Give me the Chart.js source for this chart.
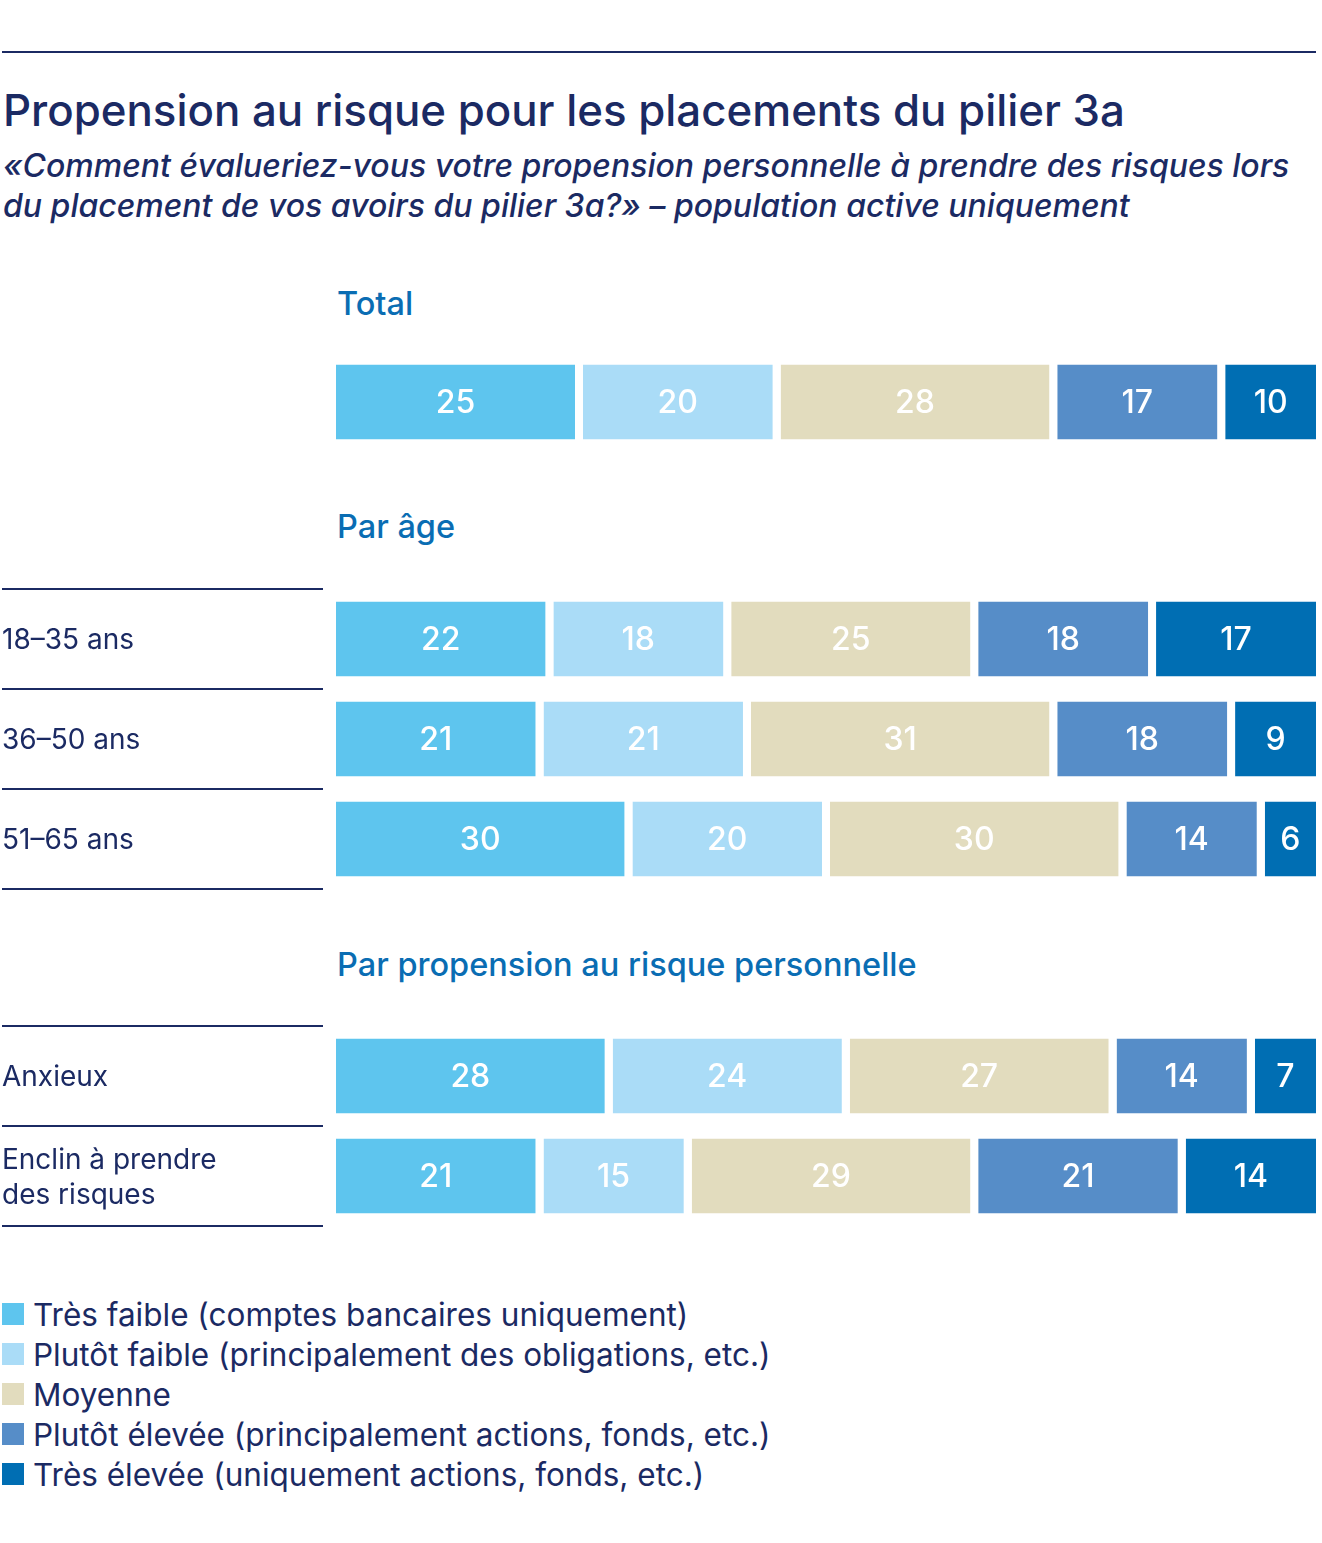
<!DOCTYPE html>
<html lang="fr"><head><meta charset="utf-8">
<script src="https://cdn.jsdelivr.net/npm/chart.js@4/dist/chart.umd.min.js"></script>
<style>
html,body{margin:0;padding:0;background:#fff;overflow:hidden;width:1322px;height:1543px;}
body{position:relative;font-family:Inter, Roboto, sans-serif;color:#1b2a63;}
.rule{position:absolute;left:2px;top:51px;width:1314px;height:2px;background:#1b2a63;}
#title{position:absolute;left:3px;top:86px;font-size:43.8px;line-height:50px;font-weight:500;white-space:nowrap;}
#subtitle{position:absolute;left:3px;top:146px;font-size:32px;line-height:40px;font-weight:500;font-style:italic;white-space:nowrap;}
.head{position:absolute;left:337px;font-size:32.5px;line-height:40px;font-weight:500;color:#0a6db3;white-space:nowrap;}
.box{position:absolute;left:0;width:1324px;}
#legend{position:absolute;left:2px;top:1294px;}
.li{display:flex;align-items:center;height:40px;font-size:31.5px;white-space:nowrap;}
.sw{width:22px;height:22px;margin-right:9px;flex:none;}
</style></head>
<body>
<div class="rule"></div>
<div id="title">Propension au risque pour les placements du pilier 3a</div>
<div id="subtitle">«Comment évalueriez-vous votre propension personnelle à prendre des risques lors<br>du placement de vos avoirs du pilier 3a?» – population active uniquement</div>
<div class="head" style="top:284px">Total</div>
<div class="box" style="top:350px;height:104px"><canvas id="c1"></canvas></div>
<div class="head" style="top:507px">Par âge</div>
<div class="box" style="top:587px;height:304px"><canvas id="c2"></canvas></div>
<div class="head" style="top:945px">Par propension au risque personnelle</div>
<div class="box" style="top:1024px;height:204px"><canvas id="c3"></canvas></div>
<div id="legend"></div>
<script>
// ---- Data ----
const seriesNames = [
  'Très faible (comptes bancaires uniquement)',
  'Plutôt faible (principalement des obligations, etc.)',
  'Moyenne',
  'Plutôt élevée (principalement actions, fonds, etc.)',
  'Très élevée (uniquement actions, fonds, etc.)'
];
const seriesColors = ['#5ec5ee', '#aadcf7', '#e2dcbe', '#568dc8', '#006eb3'];

const totalLabels = [''];
const ageLabels = ['18–35 ans', '36–50 ans', '51–65 ans'];
const riskLabels = ['Anxieux', ['Enclin à prendre', 'des risques']];

// values per series: [très faible, plutôt faible, moyenne, plutôt élevée, très élevée]
const totalValues = [[25], [20], [28], [17], [10]];
const ageValues = [
  [22, 21, 30],
  [18, 21, 20],
  [25, 31, 30],
  [18, 18, 14],
  [17, 9, 6]
];
const riskValues = [
  [28, 21],
  [24, 15],
  [27, 29],
  [14, 21],
  [7, 14]
];

const NAVY = '#1b2a63';
const GAP = 8;

const valueLabels = {
  id: 'valueLabels',
  afterDatasetsDraw(chart) {
    const ctx = chart.ctx;
    ctx.save();
    ctx.fillStyle = '#ffffff';
    ctx.font = '500 32px Inter, sans-serif';
    ctx.textAlign = 'center';
    ctx.textBaseline = 'middle';
    chart.data.datasets.forEach((ds, di) => {
      const meta = chart.getDatasetMeta(di);
      meta.data.forEach((bar, i) => {
        const v = ds.data[i];
        const cx = (bar.base + bar.x - GAP) / 2;
        ctx.fillText(String(v), cx, bar.y + 1);
      });
    });
    ctx.restore();
  }
};

const rowLines = {
  id: 'rowLines',
  afterDraw(chart, args, opts) {
    if (!opts.show) return;
    const y = chart.scales.y;
    const n = chart.data.labels.length;
    const step = (y.bottom - y.top) / n;
    const ctx = chart.ctx;
    ctx.save();
    ctx.strokeStyle = NAVY;
    ctx.lineWidth = 2;
    for (let i = 0; i <= n; i++) {
      const yy = (i < n ? y.getPixelForValue(i) - step / 2 : y.getPixelForValue(n - 1) + step / 2);
      ctx.beginPath();
      ctx.moveTo(2, yy);
      ctx.lineTo(323, yy);
      ctx.stroke();
    }
    ctx.restore();
  }
};

function makeChart(id, labels, values, showLines) {
  new Chart(document.getElementById(id), {
    type: 'bar',
    data: {
      labels: labels,
      datasets: seriesNames.map((name, si) => ({
        label: name,
        data: values[si],
        backgroundColor: seriesColors[si],
        borderColor: '#ffffff',
        borderWidth: { left: 0, top: 0, bottom: 0, right: GAP },
        borderSkipped: false,
        barPercentage: 0.75,
        categoryPercentage: 1
      }))
    },
    options: {
      indexAxis: 'y',
      responsive: true,
      maintainAspectRatio: false,
      animation: false,
      layout: { padding: { left: 2, top: 2, bottom: 2, right: 0 } },
      plugins: {
        legend: { display: false },
        tooltip: { enabled: false },
        rowLines: { show: showLines }
      },
      scales: {
        x: { stacked: true, min: 0, max: 100, display: false },
        y: {
          stacked: true,
          grid: { display: false, drawTicks: false },
          border: { display: false },
          ticks: {
            crossAlign: 'far',
            color: NAVY,
            padding: 0,
            labelOffset: 2,
            font: { family: 'Inter', size: 28, lineHeight: 1.25 }
          },
          afterFit(scale) {
            scale.width = 334;
            scale.paddingTop = 0;
            scale.paddingBottom = 0;
          }
        }
      }
    },
    plugins: [valueLabels, rowLines]
  });
}

makeChart('c1', totalLabels, totalValues, false);
makeChart('c2', ageLabels, ageValues, true);
makeChart('c3', riskLabels, riskValues, true);

const legend = document.getElementById('legend');
seriesNames.forEach((name, i) => {
  const row = document.createElement('div');
  row.className = 'li';
  const sw = document.createElement('span');
  sw.className = 'sw';
  sw.style.background = seriesColors[i];
  const t = document.createElement('span');
  t.textContent = name;
  row.appendChild(sw); row.appendChild(t);
  legend.appendChild(row);
});
</script>
</body></html>
